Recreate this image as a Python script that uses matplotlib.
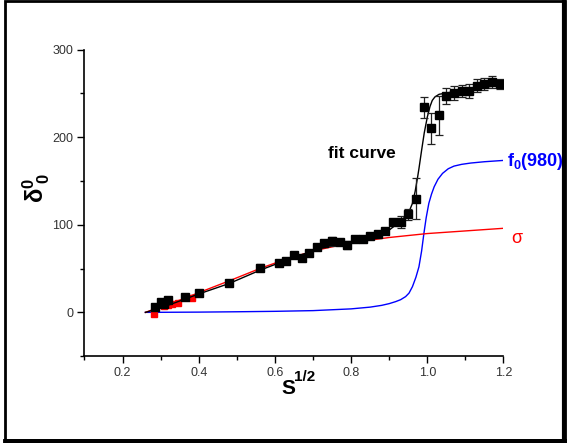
import numpy as np
import matplotlib.pyplot as plt
from matplotlib.ticker import MultipleLocator
from matplotlib.patches import Rectangle

plt.rcParams['font.family'] = ['Liberation Sans', 'DejaVu Sans']
plt.rcParams['mathtext.fontset'] = 'custom'
plt.rcParams['mathtext.rm'] = 'Liberation Sans'
plt.rcParams['mathtext.bf'] = 'Liberation Sans:bold'
plt.rcParams['mathtext.it'] = 'Liberation Sans:italic'

# measured phase shift points (black) with errors
x_data = [0.285, 0.30, 0.31, 0.32, 0.365, 0.40, 0.48, 0.56, 0.61, 0.63, 0.65, 0.67,
          0.69, 0.71, 0.73, 0.75, 0.77, 0.79, 0.81, 0.83, 0.85, 0.87, 0.89, 0.91,
          0.93, 0.95, 0.97, 0.99, 1.01, 1.03, 1.05, 1.07, 1.09, 1.11, 1.13, 1.15,
          1.17, 1.19]
y_data = [6, 12, 9, 14, 17, 22, 34, 51, 56, 59, 65, 62,
          68, 75, 79, 81, 80, 77, 84, 84, 87, 89, 93, 103,
          103, 112, 130, 234, 210, 225, 247, 250, 253, 253, 259, 261,
          263, 261]
y_err = [0, 0, 0, 0, 0, 0, 0, 4, 2, 2, 2, 2,
         2, 2, 2, 5, 2, 5, 2, 2, 2, 2, 2, 2,
         7, 6, 23, 12, 18, 22, 9, 8, 7, 8, 7, 7,
         7, 6]

# red points
x_red = [0.282, 0.31, 0.32, 0.33, 0.345, 0.382]
y_red = [-2, 7, 8, 9, 11, 16]

# fit curve
x_fit = [0.26, 0.30, 0.35, 0.40, 0.48, 0.56, 0.65, 0.72, 0.80, 0.85, 0.90, 0.934,
         0.952, 0.961, 0.968, 0.974, 0.978, 0.985, 0.992, 1.00, 1.007, 1.013,
         1.02, 1.031, 1.057, 1.10, 1.15, 1.20]
y_fit = [0, 5, 13, 21, 33, 48, 63, 73, 80, 85, 94, 105.5,
         115, 124.5, 138, 153, 164, 185, 205, 223, 235, 242,
         246, 249, 251, 254, 257, 260]

# sigma curve
x_sig = [0.26, 0.30, 0.35, 0.40, 0.48, 0.56, 0.64, 0.72, 0.80, 0.90, 1.00, 1.10, 1.20]
y_sig = [0, 6.5, 14, 22.5, 36, 50, 62.5, 72, 79.5, 85.5, 90, 93, 96]

# f0(980) curve
x_f0 = [0.26, 0.40, 0.50, 0.60, 0.70, 0.80, 0.85, 0.88, 0.90, 0.917, 0.930, 0.943,
        0.952, 0.961, 0.970, 0.978, 0.985, 0.991, 0.997, 1.004, 1.011, 1.018,
        1.028, 1.040, 1.055, 1.07, 1.09, 1.114, 1.15, 1.20]
y_f0 = [0, 0.3, 0.7, 1.2, 2, 4, 6, 8, 10, 12.3, 14.5, 18,
        22, 29.4, 40, 52, 70, 90, 108, 124.5, 135, 143.4,
        152, 158.7, 164, 167, 169, 170.5, 172, 173.5]

fig = plt.figure(figsize=(5.67, 4.43), dpi=100)
ax = fig.add_axes([0.149, 0.196, 0.739, 0.692])

ax.plot(x_f0, y_f0, color='#0000ff', lw=1.0)
ax.plot(x_sig, y_sig, color='#ff0000', lw=1.0)
ax.plot(x_red, y_red, 's', color='#ff0000', ms=5)
ax.plot(x_fit, y_fit, color='black', lw=1.0)
ax.errorbar(x_data, y_data, yerr=y_err, fmt='s', color='black', ms=5.5,
            ecolor='#222222', elinewidth=0.9, capsize=3, capthick=0.9)

ax.set_xlim(0.1, 1.2)
ax.set_ylim(-50, 300)
ax.xaxis.set_major_locator(MultipleLocator(0.2))
ax.xaxis.set_minor_locator(MultipleLocator(0.1))
ax.yaxis.set_major_locator(MultipleLocator(100))
ax.yaxis.set_minor_locator(MultipleLocator(50))
ax.set_xticks([0.2, 0.4, 0.6, 0.8, 1.0, 1.2])
ax.set_xticklabels(['0.2', '0.4', '0.6', '0.8', '1.0', '1.2'])
ax.set_yticks([0, 100, 200, 300])
ax.set_yticklabels(['0', '100', '200', '300'])
ax.tick_params(which='major', direction='out', length=5, width=1, labelsize=9,
               labelcolor='#333333', pad=3)
ax.tick_params(which='minor', direction='out', length=3, width=1)
for s in ['top', 'right']:
    ax.spines[s].set_visible(False)
for s in ['left', 'bottom']:
    ax.spines[s].set_linewidth(1.2)

ax.text(0.829, 181, 'fit curve', fontsize=12.5, fontweight='bold', ha='center', va='center')
ax.text(1.208, 172, r'$\mathbf{f_0(980)}$', fontsize=13, color='#0000ff',
        ha='left', va='center', clip_on=False)
ax.text(1.235, 84, '\u03c3', fontsize=13, color='#ff0000', ha='center', va='center',
        clip_on=False)

fig.text(0.064, 0.575, r'$\mathbf{\delta^{0}_{\ 0}}$', fontsize=17, rotation=90,
         ha='center', va='center')
fig.text(0.508, 0.122, 'S', fontsize=15, fontweight='bold', ha='center', va='center')
fig.text(0.538, 0.149, '1/2', fontsize=11, fontweight='bold', ha='center', va='center')

# outer frame
fig.patches.append(Rectangle((0.008, 0.006), 0.988, 0.992, transform=fig.transFigure,
                             fill=False, edgecolor='black', lw=2))
fig.add_artist(plt.Line2D([0.008, 0.997], [0.004, 0.004], transform=fig.transFigure,
                          color='black', lw=3.5))
fig.add_artist(plt.Line2D([0.995, 0.995], [0.004, 0.998], transform=fig.transFigure,
                          color='black', lw=3))

fig.savefig('out.png', dpi=100)
